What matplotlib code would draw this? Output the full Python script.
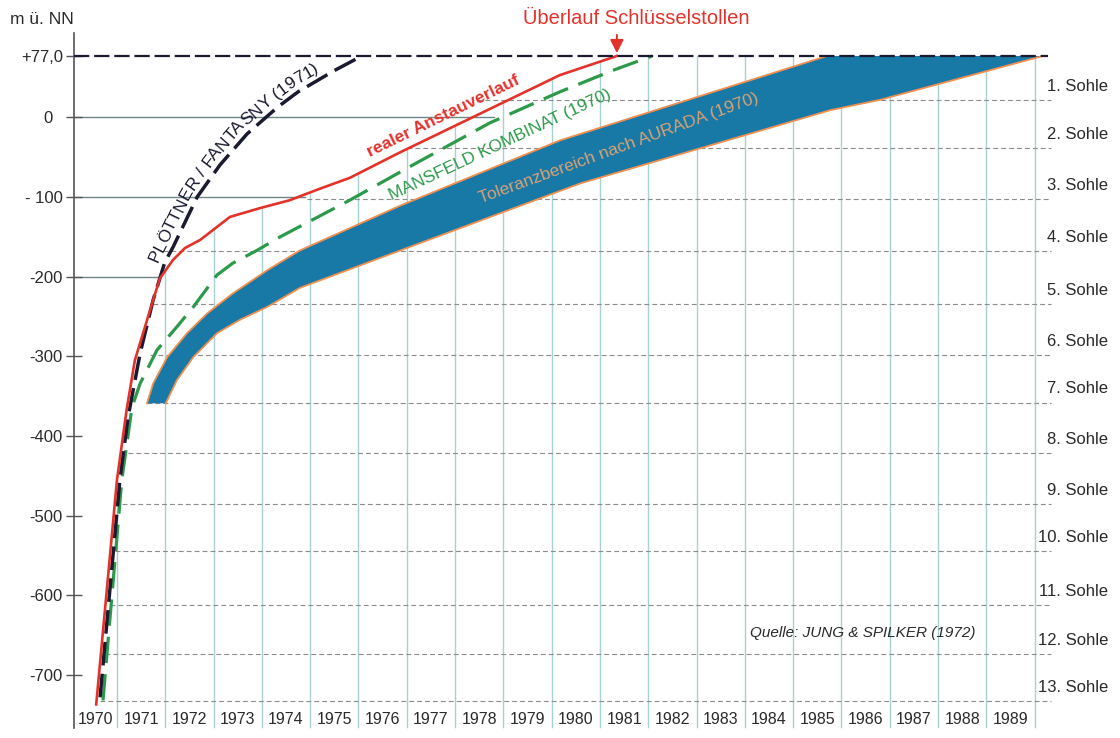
import numpy as np
import matplotlib.pyplot as plt
from matplotlib.font_manager import FontProperties
from matplotlib.transforms import IdentityTransform

plt.rcParams['font.family'] = ['Liberation Sans', 'DejaVu Sans']
plt.rcParams['lines.scale_dashes'] = False

# --- data (year, m ü. NN) ---
years = list(range(1970, 1990))
overflow_level = 77.0

# real rise of the water level
real_x = [1970.57, 1971.0, 1971.2, 1971.37, 1971.54, 1971.75, 1971.89, 1972.16, 1972.41,
          1972.72, 1973.34, 1973.96, 1974.58, 1975.14, 1975.82, 1976.86, 1980.17, 1981.35]
real_y = [-737, -455, -367, -305, -271, -229, -202, -179, -164,
          -154, -125, -114, -104, -91, -76, -44, 53, 77]

# Plöttner / Fantasny (1971)
ploett_x = [1970.65, 1971.06, 1971.23, 1971.48, 1971.75, 1971.99, 1972.16, 1972.66,
            1973.13, 1973.69, 1974.33, 1974.75, 1975.51, 1976.07]
ploett_y = [-728, -455, -376, -296, -229, -182, -163, -100,
            -60, -21, 13, 32, 59, 77]

# Mansfeld Kombinat (1970)
mansf_x = [1970.71, 1971.10, 1971.31, 1971.48, 1971.83, 1972.24, 1972.58, 1973.07,
           1973.40, 1973.90, 1974.38, 1975.82, 1977.21, 1978.72, 1980.17, 1981.27, 1982.08]
mansf_y = [-732, -455, -364, -334, -292, -263, -238, -198,
           -183, -167, -150, -104, -57, -7, 32, 59, 77]

# Toleranzbereich nach Aurada (1970)
tol_up_x = [1971.62, 1971.75, 1972.04, 1972.45, 1972.87, 1973.40, 1974.11, 1974.79,
            1976.86, 1980.17, 1985.70]
tol_up_y = [-359, -334, -301, -271, -246, -221, -192, -167, -111, -29, 77]
tol_lo_x = [1972.01, 1972.24, 1972.58, 1973.07, 1973.55, 1974.11, 1974.79, 1980.59,
            1983.07, 1985.77, 1986.80, 1990.17]
tol_lo_y = [-359, -330, -301, -271, -254, -238, -214, -83, -39, 9, 22, 77]

# mine levels (Sohlen)
sohle_names = ['%d. Sohle' % i for i in range(1, 14)]
sohle_levels = [22, -39, -103, -168, -234, -298, -358, -421, -486, -545, -612, -674, -733]
sohle_start = [1978.45, 1977.0, 1974.93, 1971.95, 1971.75, 1971.69, 1971.62, 1971.23,
               1971.10, 1970.96, 1970.86, 1970.75, 1970.65]

# y axis
ytick_vals = [77, 0, -100, -200, -300, -400, -500, -600, -700]
ytick_labels = ['+77,0', '0  ', '- 100', '-200', '-300', '-400', '-500', '-600', '-700']
solid_levels = [0, -100, -200]
solid_end = [1978.8, 1974.9, 1971.9]

# colours
c_red = '#e4322b'
c_black = '#1a1a30'
c_green = '#2c9a4a'
c_band = '#1878a6'
c_edge = '#f09050'
c_grid = '#a8d0d0'
c_sohle = '#8c8c8c'
c_text = '#2a2a2a'

fig = plt.figure(figsize=(11.2, 7.38), dpi=100)
ax = fig.add_axes([74 / 1120, 8 / 738, 986 / 1120, 700 / 738])
ax.set_xlim(1970.11, 1990.524)
ax.set_ylim(-769.1, 109.6)
bottom = -765

# vertical year lines, from the bottom up to the real curve
for yr in range(1971, 1991):
    top = np.interp(yr, real_x, real_y)
    ax.plot([yr, yr], [bottom, top], color=c_grid, lw=1.0, zorder=1)

# level lines
for lev, x0 in zip(sohle_levels, sohle_start):
    ax.plot([x0, 1990.33], [lev, lev], color=c_sohle, lw=0.8, dashes=(3.5, 2.2), zorder=1)
for lev, x1 in zip(solid_levels, solid_end):
    ax.plot([ax.get_xlim()[0], x1], [lev, lev], color='#6f8585', lw=1.0, zorder=1)

# tolerance band
bx = np.concatenate([tol_up_x, tol_lo_x[::-1]])
by = np.concatenate([tol_up_y, tol_lo_y[::-1]])
ax.fill(bx, by, color=c_band, lw=0, zorder=2)
ax.plot(tol_up_x, tol_up_y, color=c_edge, lw=1.3, zorder=3)
ax.plot(tol_lo_x, tol_lo_y, color=c_edge, lw=1.3, zorder=3)

# curves
ax.plot(mansf_x, mansf_y, color=c_green, lw=2.3, dashes=(19, 8), zorder=4)
ax.plot(ploett_x, ploett_y, color=c_black, lw=2.5, dashes=(17, 6), zorder=5)
ax.plot(real_x, real_y, color=c_red, lw=1.9, zorder=6)

# overflow level line
ax.plot([ax.get_xlim()[0], 1990.28], [overflow_level, overflow_level],
        color=c_black, lw=1.6, dashes=(11, 3.5), zorder=7)

# arrow for overflow
ax.annotate('', xy=(real_x[-1], overflow_level), xytext=(real_x[-1], 107),
            arrowprops=dict(arrowstyle='-|>', color=c_red, lw=1.4, mutation_scale=20),
            annotation_clip=False, zorder=8)
fig.text(636 / 1120, 1 - 18 / 738, 'Überlauf Schlüsselstollen', color=c_red,
         fontsize=14.5, ha='center', va='center')


# label that follows a curve, letters placed one by one (pixel coords)
def text_along(xs, ys, label, start_px_y, size, color, offset):
    pts = ax.transData.transform(np.column_stack([xs, ys]))
    seg = np.hypot(np.diff(pts[:, 0]), np.diff(pts[:, 1]))
    s_arr = np.concatenate([[0], np.cumsum(seg)])
    s0 = np.interp(start_px_y, pts[:, 1], s_arr)
    renderer = fig.canvas.get_renderer()
    fp = FontProperties(family=['Liberation Sans', 'DejaVu Sans'], size=size)

    def width(s):
        return renderer.get_text_width_height_descent(s, fp, ismath=False)[0]

    for i, ch in enumerate(label):
        if ch == ' ':
            continue
        sc = s0 + width(label[:i + 1]) - width(ch) / 2
        px = np.interp(sc, s_arr, pts[:, 0])
        py = np.interp(sc, s_arr, pts[:, 1])
        tx = np.interp(sc + 10, s_arr, pts[:, 0]) - np.interp(sc - 10, s_arr, pts[:, 0])
        ty = np.interp(sc + 10, s_arr, pts[:, 1]) - np.interp(sc - 10, s_arr, pts[:, 1])
        n = np.hypot(tx, ty)
        tx, ty = tx / n, ty / n
        fig.text(px - ty * offset, py + tx * offset, ch, transform=IdentityTransform(),
                 fontproperties=fp, color=color, rotation=np.degrees(np.arctan2(ty, tx)),
                 rotation_mode='anchor', ha='center', va='baseline', zorder=9)


text_along(ploett_x, ploett_y, 'PLÖTTNER / FANTASNY (1971)', 738 - 266, 12.5, c_black, 6.5)

# straight curve labels
ax.text(1977.75, 2, 'realer Anstauverlauf', color=c_red, fontsize=12.5,
        fontweight='bold', rotation=26, ha='center', va='center', zorder=9)
ax.text(1978.93, -35, 'MANSFELD KOMBINAT (1970)', color=c_green, fontsize=12.5,
        rotation=25, ha='center', va='center', zorder=9)
ax.text(1981.38, -39, 'Toleranzbereich nach AURADA (1970)', color='#d8a274',
        fontsize=12.5, rotation=20, ha='center', va='center', zorder=9)
ax.text(1986.43, -647, 'Quelle: JUNG & SPILKER (1972)', color=c_text, fontsize=11,
        style='italic', ha='center', va='center', zorder=9)

# sohle labels
for name, lev in zip(sohle_names, sohle_levels):
    ax.text(1991.52, lev + 17, name, color=c_text, fontsize=12, ha='right', va='center',
            clip_on=False)

# year labels
x_min = ax.get_xlim()[0]
for yr in years:
    xc = (max(yr, x_min) + yr + 1) / 2
    ax.text(xc, -756, str(yr), color=c_text, fontsize=11.5, ha='center', va='center')

# axes styling
for s in ['top', 'right', 'bottom']:
    ax.spines[s].set_visible(False)
ax.spines['left'].set_color('#555555')
ax.spines['left'].set_linewidth(1.2)
ax.spines['left'].set_bounds(bottom - 2, 106)
ax.set_xticks([])
ax.set_yticks(ytick_vals)
ax.set_yticklabels(ytick_labels)
ax.tick_params(axis='y', direction='inout', length=11, width=1.0, color='#555555',
               labelsize=12, labelcolor=c_text, pad=2.5)

fig.text(10 / 1120, 1 - 20 / 738, 'm ü. NN', color=c_text, fontsize=12.5,
         ha='left', va='center')

fig.savefig('out.png', dpi=100)
